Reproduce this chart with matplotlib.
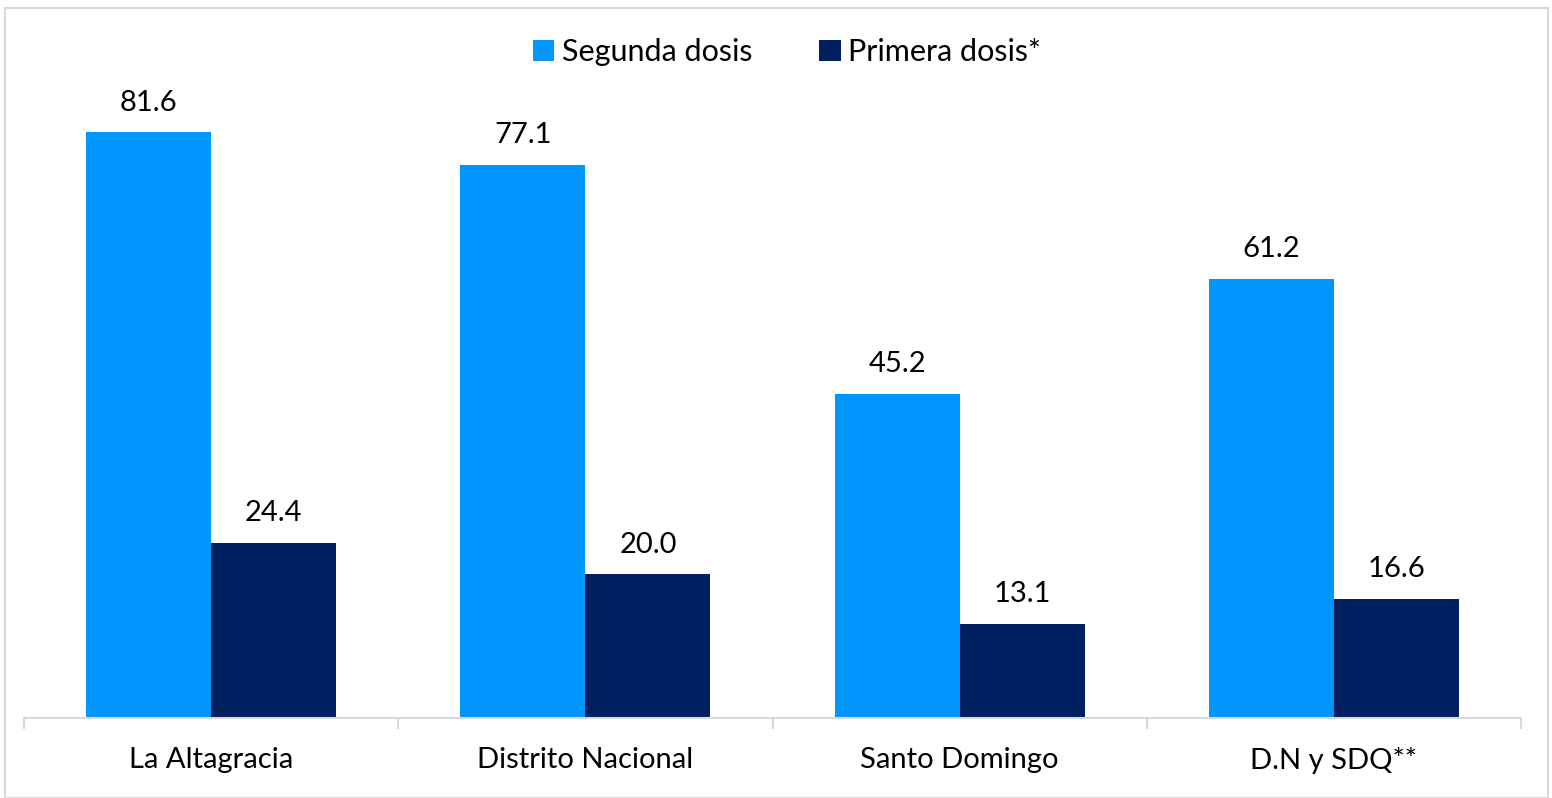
import matplotlib
matplotlib.use("Agg")
import matplotlib.pyplot as plt
import numpy as np
from matplotlib.patches import Rectangle

categories = ["La Altagracia", "Distrito Nacional", "Santo Domingo", "D.N y SDQ**"]
segunda = [81.6, 77.1, 45.2, 61.2]
primera = [24.4, 20.0, 13.1, 16.6]
series_names = ["Segunda dosis", "Primera dosis*"]
colors = ["#0096FF", "#002060"]

plt.rcParams['font.family'] = ['Lato', 'DejaVu Sans']

W, H = 1552, 798
fig = plt.figure(figsize=(W/100, H/100), dpi=100)
ax = fig.add_axes([24/W, (H-718)/H, (1521-24)/W, (718-72)/H])

x = np.arange(len(categories))
w = 125/374
b1 = ax.bar(x - w/2, segunda, w, color=colors[0], label=series_names[0])
b2 = ax.bar(x + w/2, primera, w, color=colors[1], label=series_names[1])

for bars, vals in ((b1, segunda), (b2, primera)):
    for r, v in zip(bars, vals):
        ax.annotate(f"{v:.1f}", (r.get_x() + r.get_width()/2, v),
                    xytext=(0, 12), textcoords="offset points",
                    ha="center", va="bottom", fontsize=21, color="#000000")

ax.set_xlim(-0.5, len(categories) - 0.5)
ax.set_ylim(0, 90)
ax.set_yticks([])
for s in ["top", "right", "left"]:
    ax.spines[s].set_visible(False)
ax.spines["bottom"].set_color("#d9d9d9")
ax.spines["bottom"].set_linewidth(1.5)

ax.set_xticks(x)
ax.set_xticklabels(categories, fontsize=21)
ax.tick_params(axis="x", which="major", length=0, pad=21)
ax.set_xticks(np.arange(len(categories) + 1) - 0.5, minor=True)
ax.tick_params(axis="x", which="minor", length=8, color="#d9d9d9", width=1.5)

leg = fig.legend(handles=[b1, b2], labels=series_names, loc="center",
                 bbox_to_anchor=(787/W, 1 - 52/H), ncol=2, frameon=False,
                 fontsize=22, handlelength=0.7, handleheight=0.7,
                 handletextpad=0.25, columnspacing=2.2)

fig.patches.append(Rectangle((5/W, 0.5/H), (1548-5)/W, (H-8.5)/H,
                             transform=fig.transFigure, fill=False,
                             edgecolor="#d9d9d9", linewidth=1.5))

fig.savefig("out.png", dpi=100)
